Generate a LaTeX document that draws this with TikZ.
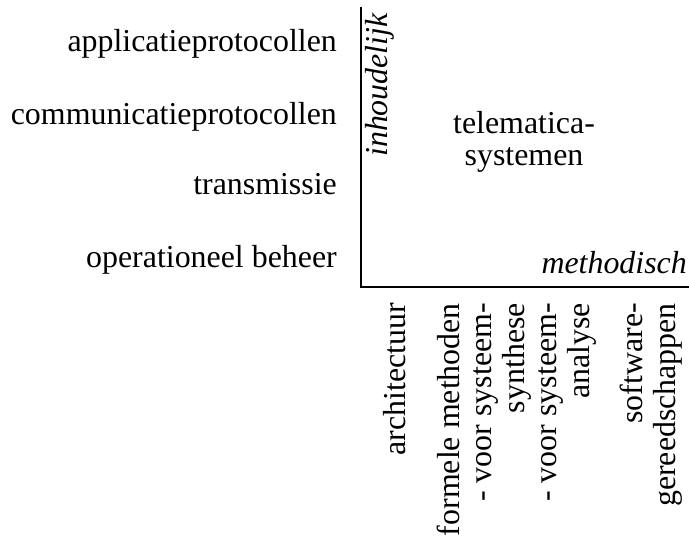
\documentclass[tikz,border=0pt]{standalone}
\usepackage{fontspec}
\setmainfont{Liberation Serif}
\usetikzlibrary{positioning}

\begin{document}
\begin{tikzpicture}[x=1pt,y=1pt,
		every node/.style={font=\fontsize{31.9}{32.5}\selectfont,inner sep=0pt},
		laag/.style={anchor=base east},
		aspect/.style={rotate=90,align=right,anchor=base east},
		as/.style={line width=1.8pt}]
		\useasboundingbox (0,0) rectangle (689,-537);
		\begin{scope}
			% assen
			\coordinate (boven) at (361,-7);
			\coordinate (rechts) at (689,-287);
			\draw[as] (boven) |- (rechts);
			\node(inh) [rotate=90,anchor=base west,font=\fontsize{31.9}{33}\selectfont\itshape] at (387,-157) {inhoudelijk};
			\node(meth) [anchor=base east,font=\fontsize{31.9}{33}\selectfont\itshape] at (687,-274) {methodisch};
			\node(tel) [align=center,anchor=base] at (524,-166) {telematica-\\systemen};
			% lagen
			\node(1) [laag] at (337,-52) {applicatieprotocollen};
			\node(2) [below=73pt of 1.base east,laag] {communicatieprotocollen};
			\node(3) [below=70pt of 2.base east,laag] {transmissie};
			\node(4) [below=73pt of 3.base east,laag] {operationeel beheer};
			% aspecten
			\node(a) [aspect] at (405,-303) {architectuur};
			\node(b) [aspect] at (589,-303) {formele methoden\\- voor systeem-\\synthese\\- voor systeem-\\analyse};
			\node(c) [aspect] at (675,-303) {software-\\gereedschappen};
		\end{scope}
	\end{tikzpicture}
\end{document}
